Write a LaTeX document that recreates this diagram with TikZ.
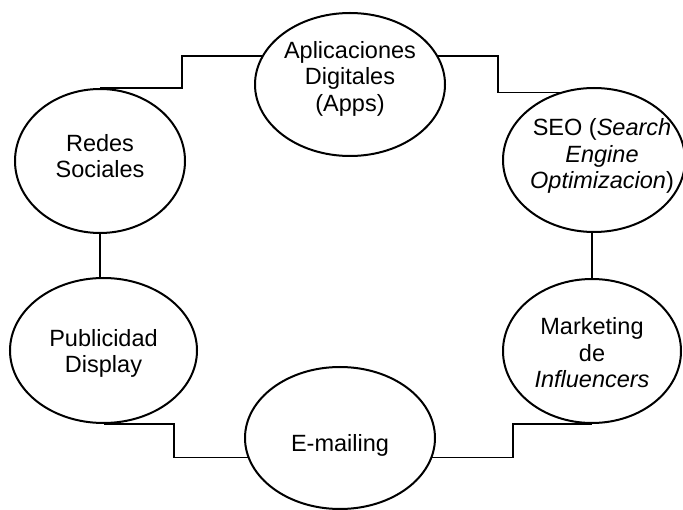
\documentclass[tikz,border=0pt]{standalone}
\usepackage{fontspec}
\setmainfont{Liberation Sans}
\usepackage{tikz}
\usetikzlibrary{shapes.geometric,calc}

\begin{document}
\begin{tikzpicture}[
            x=1pt, y=1pt,
            font=\fontsize{23.5}{26.5}\selectfont,
            bubble/.style={draw,ellipse,line width=2pt,inner sep=0pt},
            lbl/.style={align=center,inner sep=0pt},
            link/.style={line width=1.4pt}
        ]
            \useasboundingbox (0,0) rectangle (683,509);

            \node[bubble, minimum width=190, minimum height=143,
                  label={[lbl,yshift=6pt]center:Aplicaciones\\Digitales\\(Apps)}] (apps) at (350,424.5) {};
            \node[bubble, minimum width=170, minimum height=144,
                  label={[lbl,yshift=5pt]center:Redes\\Sociales}] (redes) at (100,348) {};
            \node[bubble, minimum width=182, minimum height=144,
                  label={[lbl,xshift=8pt,yshift=4pt]center:SEO (\textit{Search}\\\textit{Engine}\\\textit{Optimizacion})}] (seo) at (594,349) {};
            \node[bubble, minimum width=187, minimum height=145,
                  label={[lbl,yshift=-3pt]center:Publicidad\\Display}] (publi) at (103.5,158.5) {};
            \node[bubble, minimum width=178, minimum height=144,
                  label={[lbl,yshift=-2pt]center:Marketing\\de\\\textit{Influencers}}] (mkt) at (592,158) {};
            \node[bubble, minimum width=190, minimum height=142,
                  label={[lbl,yshift=-7pt]center:E-mailing}] (email) at (340,71) {};

            % step connectors round the ring
            \draw[link] (apps.162) -| ([xshift=82pt]redes.north) -- (redes.north);
            \draw[link] (apps.18) -- ++(60,0) |- (seo.117);
            \draw[link] (mkt.north) -- (mkt.north |- seo.south);
            \draw[link] (redes.south) -- (redes.south |- publi.north);
            \draw[link] (publi.south) -- ++(70.5,0) |- (email.192);
            \draw[link] (mkt.south) -- ++(-79,0) |- (email.348);
        \end{tikzpicture}
\end{document}
